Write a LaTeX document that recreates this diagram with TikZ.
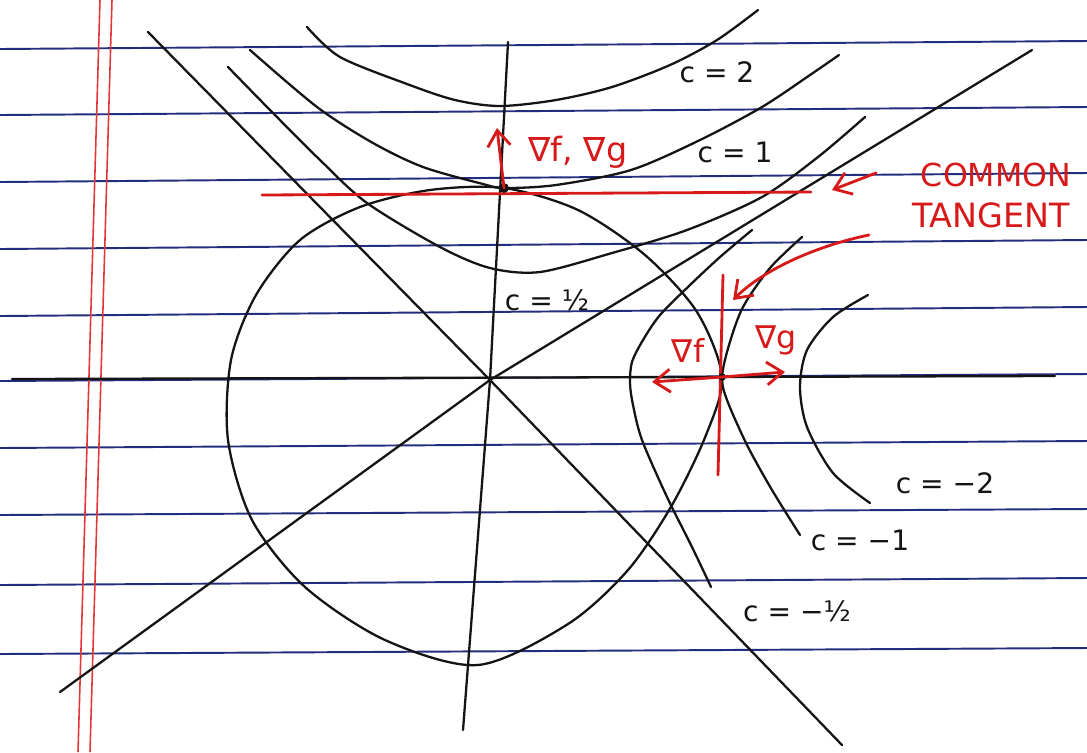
\documentclass[tikz,border=0pt]{standalone}
\usepackage{fontspec}
\setmainfont{DejaVu Sans}
\usetikzlibrary{arrows.meta}
\definecolor{rulecol}{RGB}{35,45,125}
\definecolor{pencol}{RGB}{20,20,20}
\definecolor{redpen}{RGB}{215,25,25}
\definecolor{margincol}{RGB}{225,55,55}
\begin{document}
\begin{tikzpicture}[x=0.02cm,y=-0.02cm,
  ruleline/.style={rulecol, line width=1.1pt},
  marginline/.style={margincol, line width=0.9pt},
  ink/.style={pencol, line width=1.3pt, line cap=round, line join=round},
  redink/.style={redpen, line width=1.6pt, line cap=round, line join=round},
  redarrow/.style={redink, -{Straight Barb[length=9pt,width=13pt]}},
  lbl/.style={text=pencol, font=\fontsize{16}{19}\selectfont, inner sep=0pt},
  rlbl/.style={text=redpen, font=\fontsize{19}{22}\selectfont, inner sep=0pt}]
\fill[white] (0,0) rectangle (1087,752);
\useasboundingbox (0,0) rectangle (1087,752);
% ruled paper
\foreach \a/\b in {49/41,115/107,182/173,249/240,316/307,381/374,448/441,515/509,585/578,654/648}
  \draw[ruleline] (0,\a) -- (1087,\b);
\draw[marginline] (100,0) -- (78,752);
\draw[marginline] (112,0) -- (90,752);
% key points
\coordinate (O) at (490,380);
\coordinate (P) at (504,188);
\coordinate (Q) at (722,377);
% axes and asymptotes
\draw[ink] (12,379) -- (1055,376);
\draw[ink] (508,42) -- (O) -- (463,730);
\draw[ink] (148,32) -- (O) -- (842,745);
\draw[ink] (60,692) -- (O) -- (1032,50);
% circle
\draw[ink] plot[smooth cycle] coordinates {(722,377) (697,312) (645,255) (578,210) (504,188) (430,190) (360,207) (300,240) (256,295) (231,360) (228,440) (252,520) (305,587) (385,640) (478,665) (568,624) (628,570) (672,505) (706,435)};
% upper hyperbolas
\draw[ink] plot[smooth] coordinates {(307,27) (340,57) (407,84) (455,100) (500,106) (556,100) (612,87) (670,65) (717,40) (758,10)};
\draw[ink] plot[smooth] coordinates {(250,50) (317,107) (373,143) (423,167) (483,184) (504,188) (556,185) (631,170) (700,140) (762,107) (810,75) (839,55)};
\draw[ink] plot[smooth] coordinates {(228,67) (270,110) (320,160) (367,203) (440,247) (490,268) (540,272) (612,253) (687,230) (762,197) (818,157) (865,117)};
% right hyperbolas
\draw[ink] plot[smooth] coordinates {(752,230) (720,257) (690,285) (660,315) (643,340) (632,362) (630,383) (633,405) (642,440) (667,497) (692,547) (711,587)};
\draw[ink] plot[smooth] coordinates {(802,237) (770,268) (743,307) (729,345) (722,377) (727,400) (747,445) (772,490) (800,535)};
\draw[ink] plot[smooth] coordinates {(868,295) (833,317) (807,350) (800,387) (807,427) (833,473) (870,503)};
% common tangents
\draw[redink] (262,195) -- (811,192);
\draw[redink] (723,275) -- (718,475);
\fill[pencol] (P) circle[radius=2.8pt];
\fill[pencol] (Q) circle[radius=2.2pt];
% labels
\node[lbl] (c2) at (717,72) {c = 2};
\node[lbl] (c1) at (735,152) {c = 1};
\node[lbl] (ch) at (547,300) {c = ½};
\node[lbl] (cm2) at (945,483) {c = −2};
\node[lbl] (cm1) at (860,540) {c = −1};
\node[lbl] (cmh) at (797,611) {c = −½};
\node[rlbl] (grad) at (578,152) {∇f, ∇g};
\node[rlbl, font=\fontsize{18}{21}\selectfont] (common) at (996,175) {COMMON};
\node[rlbl] (tangent) at (991,215) {TANGENT};
\node[rlbl, font=\fontsize{18}{21}\selectfont] (gf) at (688,350) {∇f};
\node[rlbl, font=\fontsize{18}{21}\selectfont] (gg) at (776,340) {∇g};
% red arrows
\coordinate (up) at (497,128);
\coordinate (fl) at (652,382);
\coordinate (gr) at (785,372);
\coordinate (cs) at (876,173);
\coordinate (ct) at (832,190);
\coordinate (vs) at (869,235);
\coordinate (cv) at (733,300);
\draw[redarrow] (P) -- (up);
\draw[redarrow] (Q) -- (fl);
\draw[redarrow] (Q) -- (gr);
\draw[redarrow] (cs) -- (ct);
\draw[redarrow] (vs) .. controls (820,245) and (765,268) .. (cv);
\end{tikzpicture}
\end{document}
